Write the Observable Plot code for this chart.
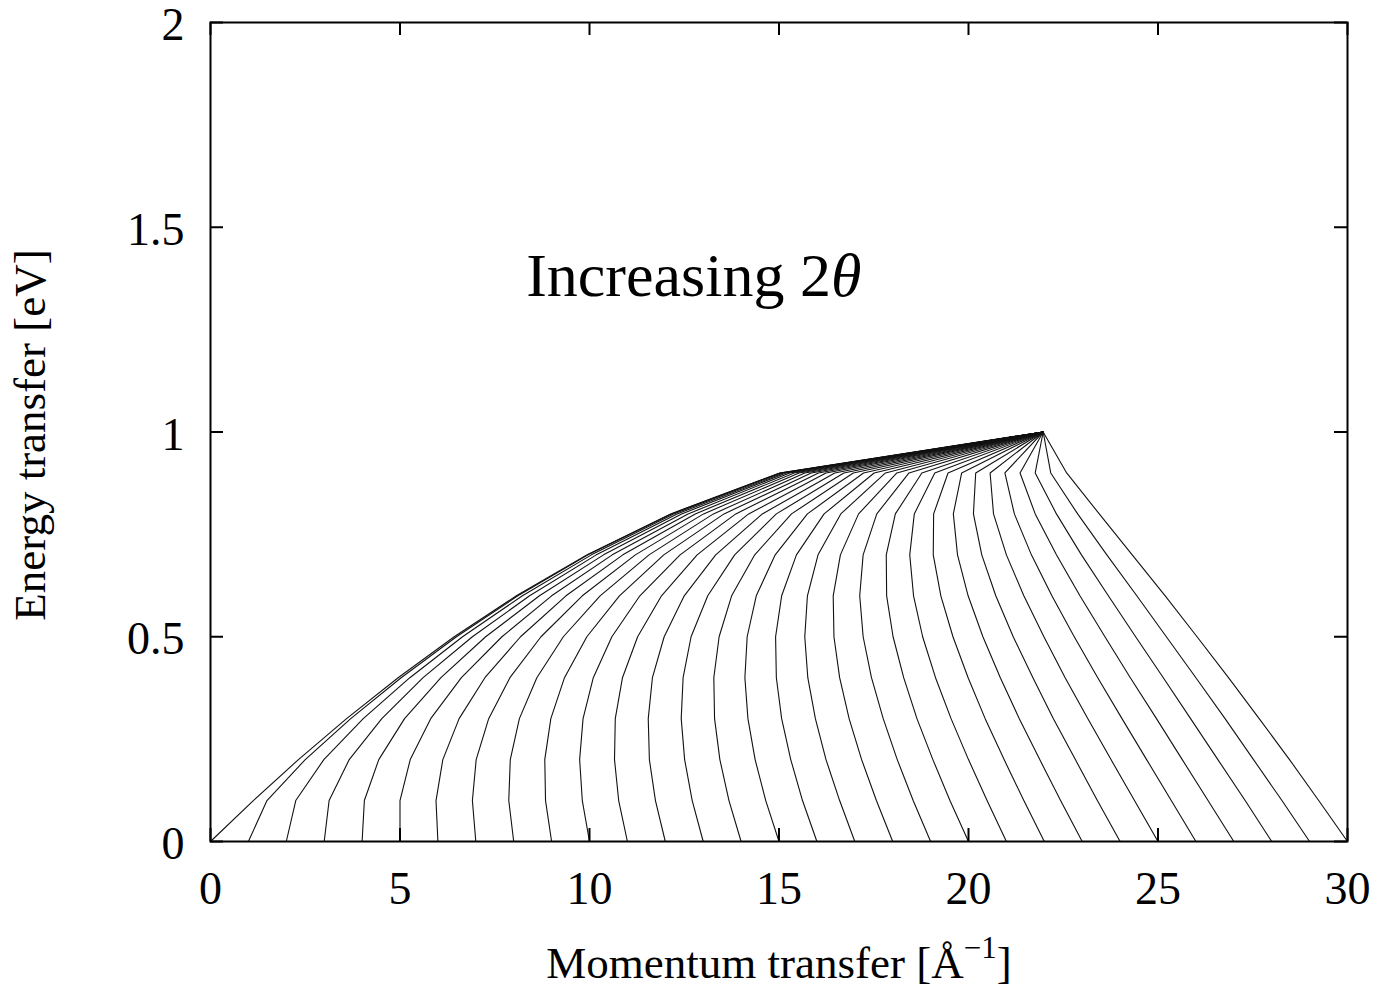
<!DOCTYPE html>
<html>
<head>
<meta charset="utf-8">
<script src="https://cdn.jsdelivr.net/npm/d3@7"></script>
<script src="https://cdn.jsdelivr.net/npm/@observablehq/plot@0.6"></script>
<style>
  html, body { margin: 0; padding: 0; background: #fff; }
  #chart { width: 1383px; height: 985px; }
</style>
</head>
<body>
<div id="chart"></div>
<script>
// Energy transfer levels (eV) at which every constant-angle curve is sampled
const energyLevels = [0, 0.1, 0.2, 0.3, 0.4, 0.5, 0.6, 0.7, 0.8, 0.9, 1.0];

// Momentum transfer (1/Å) of each of the 31 curves (one entry per scattering angle), per energy level
const qE0  = [0, 1, 2, 3, 4, 5, 6, 7, 8, 9, 10, 11, 12, 13, 14, 15, 16, 17, 18, 19, 20, 21, 22, 23, 24, 25, 26, 27, 28, 29, 30];
const qE1  = [1.13, 1.49, 2.25, 3.13, 4.06, 5.00, 5.95, 6.91, 7.87, 8.84, 9.81, 10.77, 11.74, 12.71, 13.68, 14.65, 15.62, 16.60, 17.57, 18.54, 19.51, 20.49, 21.46, 22.43, 23.40, 24.38, 25.35, 26.32, 27.30, 28.27, 29.24];
const qE2  = [2.32, 2.50, 2.99, 3.66, 4.44, 5.27, 6.13, 7.01, 7.91, 8.82, 9.74, 10.66, 11.58, 12.51, 13.44, 14.37, 15.31, 16.24, 17.18, 18.12, 19.06, 20.00, 20.94, 21.88, 22.82, 23.76, 24.70, 25.64, 26.58, 27.52, 28.47];
const qE3  = [3.59, 3.70, 4.03, 4.52, 5.12, 5.81, 6.56, 7.34, 8.15, 8.98, 9.83, 10.68, 11.55, 12.42, 13.30, 14.18, 15.07, 15.96, 16.85, 17.75, 18.64, 19.54, 20.44, 21.34, 22.24, 23.15, 24.05, 24.96, 25.86, 26.77, 27.67];
const qE4  = [4.95, 5.03, 5.26, 5.61, 6.08, 6.62, 7.24, 7.90, 8.61, 9.34, 10.10, 10.87, 11.66, 12.47, 13.28, 14.10, 14.93, 15.76, 16.60, 17.44, 18.29, 19.13, 19.99, 20.84, 21.70, 22.55, 23.41, 24.27, 25.14, 26.00, 26.86];
const qE5  = [6.43, 6.49, 6.65, 6.91, 7.26, 7.69, 8.18, 8.72, 9.31, 9.93, 10.59, 11.27, 11.97, 12.68, 13.42, 14.16, 14.91, 15.68, 16.45, 17.22, 18.01, 18.79, 19.59, 20.38, 21.18, 21.99, 22.79, 23.60, 24.41, 25.22, 26.03];
const qE6  = [8.07, 8.11, 8.23, 8.42, 8.68, 9.00, 9.38, 9.81, 10.28, 10.79, 11.33, 11.90, 12.50, 13.12, 13.75, 14.40, 15.07, 15.75, 16.43, 17.13, 17.84, 18.55, 19.27, 19.99, 20.72, 21.46, 22.20, 22.94, 23.69, 24.44, 25.19];
const qE7  = [9.94, 9.96, 10.05, 10.18, 10.37, 10.60, 10.88, 11.21, 11.57, 11.96, 12.39, 12.84, 13.33, 13.83, 14.36, 14.90, 15.46, 16.03, 16.62, 17.22, 17.83, 18.45, 19.07, 19.71, 20.35, 21.00, 21.66, 22.32, 22.98, 23.65, 24.32];
const qE8  = [12.14, 12.16, 12.22, 12.31, 12.43, 12.60, 12.79, 13.01, 13.27, 13.55, 13.86, 14.20, 14.56, 14.93, 15.33, 15.75, 16.19, 16.63, 17.10, 17.58, 18.07, 18.57, 19.08, 19.60, 20.13, 20.66, 21.21, 21.76, 22.32, 22.88, 23.45];
const qE9  = [15.02, 15.03, 15.06, 15.12, 15.19, 15.28, 15.40, 15.53, 15.68, 15.85, 16.04, 16.24, 16.47, 16.71, 16.96, 17.23, 17.51, 17.81, 18.11, 18.43, 18.77, 19.11, 19.46, 19.82, 20.19, 20.57, 20.96, 21.36, 21.76, 22.17, 22.59];
const qE10 = [21.97, 21.97, 21.97, 21.97, 21.97, 21.97, 21.97, 21.97, 21.97, 21.97, 21.97, 21.97, 21.97, 21.97, 21.97, 21.97, 21.97, 21.97, 21.97, 21.97, 21.97, 21.97, 21.97, 21.97, 21.97, 21.97, 21.97, 21.97, 21.97, 21.97, 21.97];

// Axis ticks and their labels
const xTicks = [0, 5, 10, 15, 20, 25, 30];
const xTickLabels = ["0", "5", "10", "15", "20", "25", "30"];
const yTicks = [0, 0.5, 1, 1.5, 2];
const yTickLabels = ["0", "0.5", "1", "1.5", "2"];

// Texts
const xTitle = "Momentum transfer [Å-1]";
const yTitle = "Energy transfer [eV]";
const note = "Increasing 2θ";
const notePos = {q: 8.33, e: 1.333};

// Long-format table: one row per (curve, energy level)
const qByLevel = [qE0, qE1, qE2, qE3, qE4, qE5, qE6, qE7, qE8, qE9, qE10];
const rows = [];
for (let k = 0; k < qE0.length; k++) {
  qByLevel.forEach((qs, j) => rows.push({curve: k, q: qs[k], e: energyLevels[j]}));
}

const W = 1383, H = 985;
const M = {top: 22, right: 36, bottom: 144, left: 210};
const innerW = W - M.left - M.right;
const innerH = H - M.top - M.bottom;
const tickLen = 13;

const chart = Plot.plot({
  width: W,
  height: H,
  marginTop: M.top,
  marginRight: M.right,
  marginBottom: M.bottom,
  marginLeft: M.left,
  style: {fontFamily: "'Liberation Serif', 'Times New Roman', serif", fontSize: "46px", color: "#000", background: "#fff", overflow: "visible"},
  x: {domain: [0, 30]},
  y: {domain: [0, 2]},
  marks: [
    Plot.line(rows, {x: "q", y: "e", z: "curve", stroke: "#111", strokeWidth: 1.1, curve: "linear"}),
    Plot.frame({stroke: "#000", strokeWidth: 2}),
    // inward tick marks on all four sides
    Plot.tickX(xTicks, {x: d => d, insetTop: innerH - tickLen, stroke: "#000", strokeWidth: 2}),
    Plot.tickX(xTicks, {x: d => d, insetBottom: innerH - tickLen, stroke: "#000", strokeWidth: 2}),
    Plot.tickY(yTicks, {y: d => d, insetRight: innerW - tickLen, stroke: "#000", strokeWidth: 2}),
    Plot.tickY(yTicks, {y: d => d, insetLeft: innerW - tickLen, stroke: "#000", strokeWidth: 2}),
    Plot.axisX({ticks: xTicks, tickSize: 0, tickPadding: 30, tickFormat: (d, i) => xTickLabels[i], label: null, fontSize: 46}),
    Plot.axisY({ticks: yTicks, tickSize: 0, tickPadding: 26, tickFormat: (d, i) => yTickLabels[i], label: null, fontSize: 46, dy: 3}),
    Plot.text([note], {x: () => notePos.q, y: () => notePos.e, text: d => d, textAnchor: "start", lineAnchor: "bottom", fontSize: 62}),
    Plot.text([xTitle], {frameAnchor: "bottom", text: d => d, textAnchor: "middle", dy: 136, lineAnchor: "bottom", fontSize: 45}),
    Plot.text([yTitle], {frameAnchor: "left", text: d => d, textAnchor: "middle", rotate: -90, dx: -166, dy: 3, lineAnchor: "bottom", fontSize: 45})
  ]
});

// Italic theta and the superscript exponent
const NS = "http://www.w3.org/2000/svg";
chart.querySelectorAll("text").forEach(t => {
  if (t.textContent === note) {
    t.textContent = "Increasing 2";
    const th = document.createElementNS(NS, "tspan");
    th.setAttribute("font-style", "italic");
    th.textContent = "θ";
    t.appendChild(th);
  } else if (t.textContent === xTitle) {
    t.textContent = "Momentum transfer [Å";
    const sup = document.createElementNS(NS, "tspan");
    sup.setAttribute("dy", "-20");
    sup.setAttribute("font-size", "31");
    sup.textContent = "\u22121";
    const close = document.createElementNS(NS, "tspan");
    close.setAttribute("dy", "20");
    close.textContent = "]";
    t.appendChild(sup);
    t.appendChild(close);
  }
});

document.getElementById("chart").appendChild(chart);
</script>
</body>
</html>
